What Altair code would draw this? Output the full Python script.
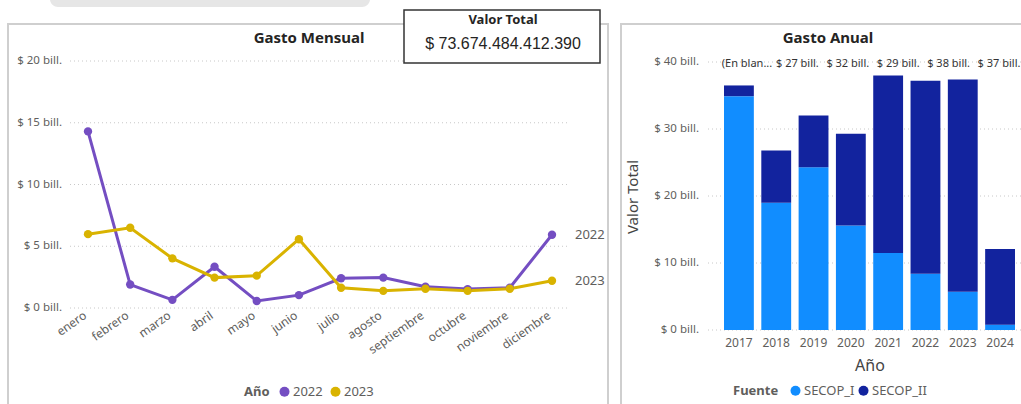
import altair as alt
import pandas as pd

FONT = "Noto Sans"
GRAY = "#605E5C"
DARK = "#252423"

# ---------------- data: Gasto Mensual ----------------
meses = ["enero", "febrero", "marzo", "abril", "mayo", "junio", "julio",
         "agosto", "septiembre", "octubre", "noviembre", "diciembre"]
gasto_2022 = [14.3, 1.9, 0.66, 3.34, 0.57, 1.04, 2.41, 2.46, 1.72, 1.53, 1.64, 5.93]
gasto_2023 = [5.98, 6.5, 4.02, 2.46, 2.62, 5.57, 1.64, 1.39, 1.56, 1.39, 1.56, 2.21]
series = ["2022", "2023"]
series_colors = ["#744EC2", "#D9B300"]
ticks_mes = [0, 5, 10, 15, 20]
ticks_mes_lbl = ["$ 0 bill.", "$ 5 bill.", "$ 10 bill.", "$ 15 bill.", "$ 20 bill."]

# ---------------- data: Gasto Anual ----------------
anios = ["2017", "2018", "2019", "2020", "2021", "2022", "2023", "2024"]
secop_i = [34.9, 19.0, 24.3, 15.6, 11.5, 8.4, 5.7, 0.8]
secop_ii = [1.6, 7.8, 7.7, 13.7, 26.5, 28.8, 31.7, 11.3]
fuentes = ["SECOP_I", "SECOP_II"]
fuente_colors = ["#118DFF", "#12239E"]
ticks_anual = [0, 10, 20, 30, 40]
ticks_anual_lbl = ["$ 0 bill.", "$ 10 bill.", "$ 20 bill.", "$ 30 bill.", "$ 40 bill."]
etiquetas_total = ["(En blan...", "$ 27 bill.", "$ 32 bill.", "$ 29 bill.", "$ 38 bill.", "$ 37 bill."]

valor_total = "$ 73.674.484.412.390"

# ---------------- tables ----------------
df_mes = pd.DataFrame({
    "mes": meses * 2,
    "valor": gasto_2022 + gasto_2023,
    "anio": [series[0]] * 12 + [series[1]] * 12,
})
df_end = df_mes[df_mes["mes"] == meses[-1]]
df_tm = pd.DataFrame({"v": ticks_mes, "lbl": ticks_mes_lbl})
df_meses = pd.DataFrame({"mes": meses})

df_bar = pd.DataFrame({
    "anio": anios * 2,
    "valor": secop_i + secop_ii,
    "fuente": [fuentes[0]] * 8 + [fuentes[1]] * 8,
})
df_ta = pd.DataFrame({"v": ticks_anual, "lbl": ticks_anual_lbl})
df_anios = pd.DataFrame({"anio": anios})
df_tot = pd.DataFrame({"i": list(range(len(etiquetas_total))), "lbl": etiquetas_total})

one = pd.DataFrame({"k": [0]})

# ---------------- scales ----------------
x_mes = alt.Scale(type="point", domain=meses, range=[88, 552], padding=0)
y_mes = alt.Scale(domain=[0, 20], range=[308, 61], nice=False, zero=False)
c_mes = alt.Scale(domain=series, range=series_colors)

x_anio = alt.Scale(type="band", domain=anios, range=[724, 1015], paddingInner=0.2, paddingOuter=0)
y_anio = alt.Scale(domain=[0, 40], range=[330, 62], nice=False, zero=False)
c_anio = alt.Scale(domain=fuentes, range=fuente_colors)
x_tot = alt.Scale(domain=[0, len(etiquetas_total) - 1], range=[747, 999], nice=False, zero=False)

# ---------------- decorations ----------------
tab = alt.Chart(one).mark_rect(color="#E6E6E6", cornerRadius=8).encode(
    x=alt.value(50), x2=alt.value(370), y=alt.value(-12), y2=alt.value(7))
panel_l = alt.Chart(one).mark_rect(fill="white", stroke="#CFCFCF", strokeWidth=2).encode(
    x=alt.value(8), x2=alt.value(608), y=alt.value(24), y2=alt.value(430))
panel_r = alt.Chart(one).mark_rect(fill="white", stroke="#CFCFCF", strokeWidth=2).encode(
    x=alt.value(621), x2=alt.value(1040), y=alt.value(24), y2=alt.value(430))

def title_text(txt, x, y, size=15, weight="bold", color=DARK, angle=0, font=FONT):
    return alt.Chart(pd.DataFrame({"t": [txt]})).mark_text(
        font=font, fontSize=size, fontWeight=weight, color=color,
        align="center", baseline="middle", angle=angle).encode(
        text="t:N", x=alt.value(x), y=alt.value(y))

# ---------------- left panel: Gasto Mensual ----------------
legend_mes = alt.Legend(
    orient="none", legendX=244, legendY=385, direction="horizontal",
    title="Año", titleOrient="left", titleFont=FONT, titleFontSize=13,
    titleFontWeight="bold", titleColor=GRAY, labelFont=FONT, labelFontSize=13,
    labelColor=GRAY, symbolType="circle", symbolSize=100, symbolStrokeWidth=0,
    symbolOpacity=1, padding=0, labelOffset=2, columnPadding=6, titlePadding=8)

grid_l = alt.Chart(df_tm).mark_rule(color="#C8C8C8", strokeDash=[1, 3], strokeWidth=1).encode(
    y=alt.Y("v:Q", scale=y_mes, axis=None), x=alt.value(70), x2=alt.value(568))
ylab_l = alt.Chart(df_tm).mark_text(font=FONT, fontSize=11.5, color=GRAY, align="right",
                                    baseline="middle").encode(
    y=alt.Y("v:Q", scale=y_mes, axis=None), x=alt.value(62), text="lbl:N")
lines = alt.Chart(df_mes).mark_line(strokeWidth=3).encode(
    x=alt.X("mes:N", scale=x_mes, axis=None, sort=meses),
    y=alt.Y("valor:Q", scale=y_mes, axis=None),
    color=alt.Color("anio:N", scale=c_mes, legend=legend_mes))
points = alt.Chart(df_mes).mark_point(filled=True, size=70, opacity=1).encode(
    x=alt.X("mes:N", scale=x_mes, axis=None, sort=meses),
    y=alt.Y("valor:Q", scale=y_mes, axis=None),
    color=alt.Color("anio:N", scale=c_mes, legend=legend_mes))
endlab = alt.Chart(df_end).mark_text(font=FONT, fontSize=13, color=GRAY, align="left",
                                     baseline="middle", dx=23).encode(
    x=alt.X("mes:N", scale=x_mes, axis=None, sort=meses),
    y=alt.Y("valor:Q", scale=y_mes, axis=None), text="anio:N")
xlab_l = alt.Chart(df_meses).mark_text(font=FONT, fontSize=12, color=GRAY, align="right",
                                       baseline="top", angle=325, dx=-7).encode(
    x=alt.X("mes:N", scale=x_mes, axis=None, sort=meses), y=alt.value(306), text="mes:N")

left = alt.layer(grid_l, ylab_l, lines, points, endlab, xlab_l)

# ---------------- right panel: Gasto Anual ----------------
legend_anio = alt.Legend(
    orient="none", legendX=733, legendY=384, direction="horizontal",
    title="Fuente", titleOrient="left", titleFont=FONT, titleFontSize=13,
    titleFontWeight="bold", titleColor=GRAY, labelFont=FONT, labelFontSize=13,
    labelColor=GRAY, symbolType="circle", symbolSize=100, symbolStrokeWidth=0,
    symbolOpacity=1, padding=0, labelOffset=2, columnPadding=2, titlePadding=10)

grid_r = alt.Chart(df_ta).mark_rule(color="#C8C8C8", strokeDash=[1, 3], strokeWidth=1).encode(
    y=alt.Y("v:Q", scale=y_anio, axis=None), x=alt.value(708), x2=alt.value(1021))
ylab_r = alt.Chart(df_ta).mark_text(font=FONT, fontSize=11.5, color=GRAY, align="right",
                                    baseline="middle").encode(
    y=alt.Y("v:Q", scale=y_anio, axis=None), x=alt.value(699), text="lbl:N")
bars = alt.Chart(df_bar).mark_bar().encode(
    x=alt.X("anio:N", scale=x_anio, axis=None),
    y=alt.Y("valor:Q", scale=y_anio, axis=None, stack="zero"),
    color=alt.Color("fuente:N", scale=c_anio, legend=legend_anio),
    order=alt.Order("fuente:N", sort="ascending"))
xlab_r = alt.Chart(df_anios).mark_text(font=FONT, fontSize=12, color=GRAY, align="center",
                                       baseline="middle").encode(
    x=alt.X("anio:N", scale=x_anio, axis=None), y=alt.value(343), text="anio:N")

right = alt.layer(grid_r, ylab_r, bars, xlab_r)

tot = alt.Chart(df_tot).mark_text(font=FONT, fontSize=11, color="#333333", align="center",
                                  baseline="middle").encode(
    x=alt.X("i:Q", scale=x_tot, axis=None), y=alt.value(64), text="lbl:N")

# ---------------- card ----------------
card = alt.Chart(one).mark_rect(fill="white", stroke="#333333", strokeWidth=1.5).encode(
    x=alt.value(404), x2=alt.value(600), y=alt.value(10), y2=alt.value(63))

chart = alt.layer(
    tab, panel_l, panel_r,
    title_text("Gasto Mensual", 309, 38),
    title_text("Gasto Anual", 828, 38),
    left, right, tot,
    title_text("Año", 870, 366, size=16, weight="normal", color="#444444"),
    title_text("Valor Total", 633, 197, size=15, weight="normal", color="#444444", angle=270),
    card,
    title_text("Valor Total", 503, 20, size=13),
    title_text(valor_total, 503, 44, size=16, weight="normal", font="Liberation Sans"),
).resolve_scale(
    x="independent", y="independent", color="independent"
).properties(
    width=1021, height=404, padding=0, autosize="none", background="white"
).configure_view(stroke=None)

chart.save("out.html", embed_options={"renderer": "svg", "actions": False})
